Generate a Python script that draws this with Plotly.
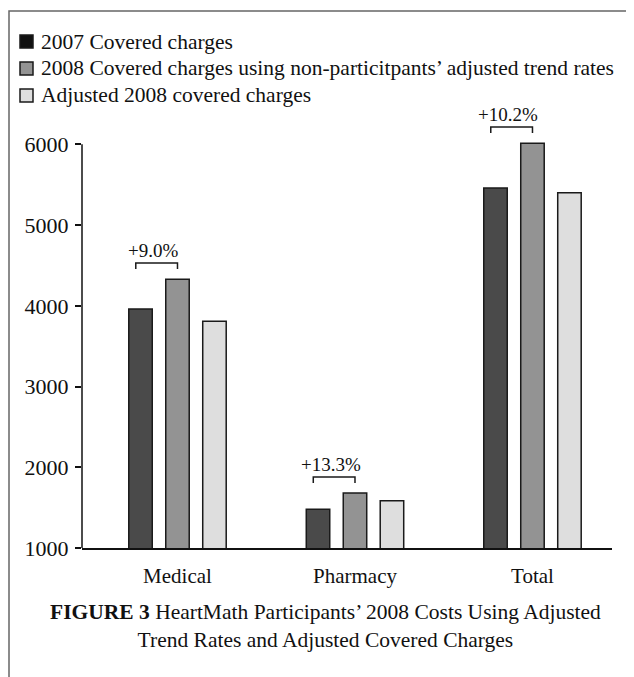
import plotly.graph_objects as go

# ---- data ----
categories = ["Medical", "Pharmacy", "Total"]
series_names = [
    "2007 Covered charges",
    "2008 Covered charges using non-particitpants\u2019 adjusted trend rates",
    "Adjusted 2008 covered charges",
]
covered_2007 = [3960, 1480, 5460]
covered_2008_trend = [4330, 1680, 6015]
adjusted_2008 = [3810, 1585, 5400]
pct_labels = ["+9.0%", "+13.3%", "+10.2%"]
y_tickvals = [1000, 2000, 3000, 4000, 5000, 6000]

bar_colors = ["#4a4a4a", "#939393", "#dedede"]
legend_colors = ["#111111", "#939393", "#dedede"]
FONT = "Liberation Serif"

# page offset (browser body margin) compensation
OFF = 8
W, H = 634, 677
L = 82 - OFF
T = 104 - OFF
PW, PH = 530, 444
R = W - L - PW
B = H - T - PH

def px(xp):
    """screen pixel x (reference) -> paper x"""
    return (xp - OFF - L) / PW

def py(yp):
    """screen pixel y (reference) -> paper y"""
    return (T + PH - (yp - OFF)) / PH

fig = go.Figure()
for k, (name, vals, col) in enumerate(zip(series_names, [covered_2007, covered_2008_trend, adjusted_2008], bar_colors)):
    fig.add_trace(go.Bar(
        x=categories, y=vals, name=name, showlegend=False, offsetgroup=str(k),
        marker=dict(color=col, line=dict(color="#1a1a1a", width=1.5)),
        hoverinfo="skip",
    ))

shapes = []
annotations = []

# brackets + percentage labels
for i, (lab, g) in enumerate(zip(pct_labels, covered_2008_trend)):
    x0, x1 = i - 0.235, i + 0.0
    yb, yt = g + 125, g + 200
    shapes.append(dict(type="path", xref="x", yref="y",
                       path=f"M {x0},{yb} L {x0},{yt} L {x1},{yt} L {x1},{yb}",
                       line=dict(color="#1a1a1a", width=1.5)))
    annotations.append(dict(x=(x0 + x1) / 2 - 0.02, y=yt, xref="x", yref="y",
                            text=lab, showarrow=False, yanchor="bottom",
                            font=dict(family=FONT, size=19, color="#111")))

# legend (swatches + labels)
for j, (name, col) in enumerate(zip(series_names, legend_colors)):
    yc = 41.5 + 27 * j
    shapes.append(dict(type="rect", xref="paper", yref="paper",
                       x0=px(20), x1=px(33), y0=py(yc + 6.5), y1=py(yc - 6.5),
                       fillcolor=col, line=dict(color="#1a1a1a", width=1.5)))
    annotations.append(dict(x=px(39), y=py(yc), xref="paper", yref="paper",
                            text=name, showarrow=False, xanchor="left", yanchor="middle",
                            font=dict(family=FONT, size=21.5, color="#111")))

# y axis line from 1000 to 6000
shapes.append(dict(type="line", xref="paper", yref="y", x0=0, x1=0,
                   y0=y_tickvals[0], y1=y_tickvals[-1],
                   line=dict(color="#111", width=1.5)))
# frame around figure (top and left visible)
shapes.append(dict(type="rect", xref="paper", yref="paper",
                   x0=px(OFF + 1), x1=px(700), y0=py(760), y1=py(11),
                   line=dict(color="#666", width=1.5), layer="below"))

annotations.append(dict(
    x=px(325), y=py(626), xref="paper", yref="paper",
    text="<b>FIGURE 3</b> HeartMath Participants\u2019 2008 Costs Using Adjusted<br>Trend Rates and Adjusted Covered Charges",
    showarrow=False, xanchor="center", yanchor="middle", align="center",
    font=dict(family=FONT, size=21.5, color="#111")))

fig.update_layout(
    width=W, height=H,
    margin=dict(l=L, r=R, t=T, b=B, autoexpand=False),
    paper_bgcolor="white", plot_bgcolor="white",
    barmode="group", bargap=0.375, bargroupgap=0.365,
    font=dict(family=FONT, size=21, color="#111"),
    shapes=shapes, annotations=annotations,
    showlegend=False,
    xaxis=dict(type="category", range=[-0.538, 2.448], showline=True, linecolor="#111",
               linewidth=1.5, ticks="", showgrid=False, zeroline=False,
               tickfont=dict(family=FONT, size=21, color="#111"), ticklabelstandoff=8),
    yaxis=dict(range=[1000, 6500], tickvals=y_tickvals, ticks="outside", ticklen=6,
               tickwidth=1.5, tickcolor="#111", showline=False, showgrid=False,
               zeroline=False, tickfont=dict(family=FONT, size=22, color="#111"),
               ticklabelstandoff=2),
)

fig.write_html("out.html")
